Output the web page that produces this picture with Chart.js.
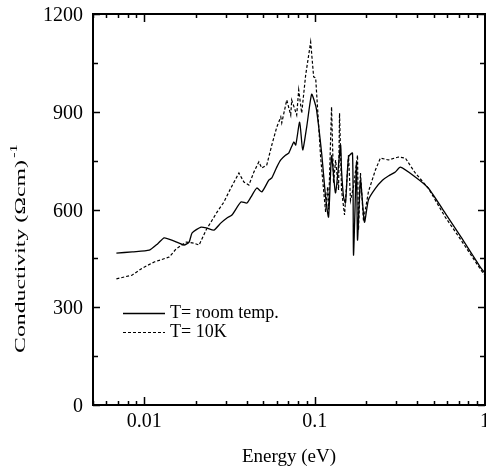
<!DOCTYPE html>
<html>
<head>
<meta charset="utf-8">
<script src="https://cdn.jsdelivr.net/npm/chart.js@4.4.1/dist/chart.umd.min.js"></script>
<style>
  html, body { margin: 0; padding: 0; background: #fff; }
  #wrap { width: 486px; height: 472px; }
</style>
</head>
<body>
<div id="wrap"><canvas id="conductivity-chart" width="486" height="472"></canvas></div>
<script>
// Energy (eV) and conductivity (Ohm cm)^-1
const roomEnergy = [0.00686, 0.0085, 0.0107, 0.0120, 0.01309, 0.0150, 0.0171, 0.01833, 0.01909, 0.02154,
  0.02336, 0.02567, 0.0282, 0.03058, 0.0327, 0.03692, 0.04002, 0.04224, 0.04579, 0.04898,
  0.05383, 0.05605, 0.05995, 0.06327, 0.06767, 0.07047, 0.0754, 0.07745, 0.0817, 0.08509,
  0.08979, 0.0960, 0.1, 0.1027, 0.1099, 0.1160, 0.1207, 0.1257, 0.1327, 0.1419,
  0.1438, 0.1478, 0.1518, 0.1581, 0.1668, 0.1691, 0.1761, 0.1785, 0.1858, 0.1961,
  0.2070, 0.2273, 0.2500, 0.2709, 0.2977, 0.3185, 0.3896, 0.4642, 0.5836, 0.7237,
  0.9476, 1.0];
const roomSigma = [466, 470, 475, 495, 513, 503, 491, 500, 528, 546,
  543, 537, 559, 574, 583, 623, 620, 638, 666, 654,
  690, 697, 730, 752, 767, 773, 807, 798, 868, 783,
  853, 954, 930, 905, 773, 638, 577, 765, 651, 798,
  721, 638, 620, 761, 773, 460, 745, 506, 690, 561,
  630, 665, 690, 703, 715, 730, 700, 666, 589, 515,
  420, 405];

const coldEnergy = [0.00686, 0.00851, 0.00973, 0.01144, 0.0140, 0.01538, 0.01761, 0.0195, 0.02098, 0.02305,
  0.02466, 0.02673, 0.02935, 0.03223, 0.03594, 0.03845, 0.04112, 0.04399, 0.04705, 0.04898,
  0.05239, 0.05605, 0.05995, 0.06327, 0.06412, 0.0686, 0.07238, 0.07336, 0.07847, 0.08063,
  0.08395, 0.0886, 0.09476, 0.09867, 0.1014, 0.1084, 0.1160, 0.1191, 0.1207, 0.1257,
  0.1291, 0.1327, 0.1382, 0.1400, 0.1438, 0.1498, 0.1581, 0.1624, 0.1691, 0.1785,
  0.1809, 0.1858, 0.1935, 0.2070, 0.2273, 0.2432, 0.2709, 0.3099, 0.3406, 0.3896,
  0.4642, 0.5836, 0.7237, 0.9476, 1.0];
const coldSigma = [387, 399, 420, 439, 454, 479, 500, 497, 491, 537,
  562, 592, 623, 666, 712, 684, 675, 715, 746, 727,
  737, 798, 853, 884, 866, 936, 890, 936, 890, 967,
  896, 1013, 1114, 1007, 1004, 761, 592, 669, 600, 915,
  681, 752, 660, 896, 660, 583, 767, 628, 669, 767,
  537, 712, 565, 655, 721, 758, 752, 761, 758, 712,
  666, 577, 506, 414, 398];

const seriesLabels = ['T= room temp.', 'T= 10K'];
const xLabelTicks = [0.01, 0.1, 1];
const yLabelTicks = [0, 300, 600, 900, 1200];

document.addEventListener('DOMContentLoaded', function() {
    const canvas = document.getElementById('conductivity-chart');
    const serif = "'Liberation Serif', 'DejaVu Serif', serif";

    function toPoints(xs, ys) {
        return xs.map((x, i) => ({ x: x, y: ys[i] }));
    }

    // Minor tick positions for the log axis (1..9 x 10^n)
    function logTickValues(min, max) {
        const vals = [];
        for (let p = -3; p <= 0; p++) {
            for (let m = 1; m <= 9; m++) {
                const v = m * Math.pow(10, p);
                if (v >= min * 0.999 && v <= max * 1.001) vals.push(v);
            }
        }
        return vals;
    }

    // Box, inward ticks, tick labels, titles and legend
    const framePlugin = {
        id: 'frame',
        afterDraw(chart) {
            const ctx = chart.ctx;
            const area = chart.chartArea;
            const xs = chart.scales.x;
            const ys = chart.scales.y;
            ctx.save();
            ctx.strokeStyle = '#000';
            ctx.fillStyle = '#000';

            // frame
            ctx.lineWidth = 2;
            ctx.strokeRect(area.left, area.top, area.right - area.left, area.bottom - area.top);

            // x ticks (bottom and top)
            ctx.lineWidth = 1.5;
            logTickValues(xs.min, xs.max).forEach(v => {
                const px = Math.round(xs.getPixelForValue(v)) + 0.5;
                const major = xLabelTicks.some(t => Math.abs(t - v) < 1e-9);
                const len = major ? 8 : 4;
                ctx.beginPath();
                ctx.moveTo(px, area.bottom);
                ctx.lineTo(px, area.bottom - len);
                ctx.moveTo(px, area.top);
                ctx.lineTo(px, area.top + len);
                ctx.stroke();
            });

            // y ticks (left and right) with labels
            ctx.font = '20px ' + serif;
            ctx.textAlign = 'right';
            ctx.textBaseline = 'alphabetic';
            ys.ticks.forEach(t => {
                const py = Math.round(ys.getPixelForValue(t.value)) + 0.5;
                const major = yLabelTicks.includes(t.value);
                const len = major ? 7 : 5;
                ctx.beginPath();
                ctx.moveTo(area.left, py);
                ctx.lineTo(area.left + len, py);
                ctx.moveTo(area.right, py);
                ctx.lineTo(area.right - len, py);
                ctx.stroke();
                if (major) ctx.fillText(String(t.value), area.left - 10, py + 6.5);
            });

            // x tick labels
            ctx.textAlign = 'center';
            xLabelTicks.forEach(v => {
                ctx.fillText(String(v), xs.getPixelForValue(v), 427);
            });

            // x title
            ctx.font = '19px ' + serif;
            ctx.fillText('Energy (eV)', (area.left + area.right) / 2, 462);

            // y title: the original glyphs are tall and narrow
            ctx.save();
            ctx.translate(25, 353);
            ctx.rotate(-Math.PI / 2);
            ctx.font = '22px ' + serif;
            ctx.textAlign = 'left';
            const main = 'Conductivity (\u03A9cm)';
            const sx = 193 / ctx.measureText(main).width;
            ctx.scale(sx, 0.7);
            ctx.fillText(main, 0, 0);
            ctx.font = '15px ' + serif;
            ctx.fillText('-1', 193 / sx + 2, -12);
            ctx.restore();

            // legend
            ctx.font = '18px ' + serif;
            ctx.textAlign = 'left';
            chart.data.datasets.forEach((ds, i) => {
                const ly = 313 + i * 19;
                ctx.lineWidth = ds.borderWidth;
                ctx.setLineDash(ds.borderDash || []);
                ctx.beginPath();
                ctx.moveTo(123, ly + 0.5);
                ctx.lineTo(165, ly + 0.5);
                ctx.stroke();
                ctx.setLineDash([]);
                ctx.fillText(ds.label, 170, ly + 5);
            });
            ctx.restore();
        }
    };

    const config = {
        type: 'line',
        data: {
            datasets: [
                {
                    label: seriesLabels[0],
                    data: toPoints(roomEnergy, roomSigma),
                    borderColor: '#000',
                    borderWidth: 1.3,
                    pointRadius: 0,
                    tension: 0.2,
                    fill: false
                },
                {
                    label: seriesLabels[1],
                    data: toPoints(coldEnergy, coldSigma),
                    borderColor: '#000',
                    borderWidth: 1.2,
                    borderDash: [3, 2],
                    pointRadius: 0,
                    tension: 0,
                    fill: false
                }
            ]
        },
        options: {
            responsive: false,
            animation: false,
            layout: { padding: { top: 14, right: 1, left: 0, bottom: 0 } },
            plugins: {
                legend: { display: false },
                tooltip: { enabled: false }
            },
            scales: {
                x: {
                    type: 'logarithmic',
                    min: 0.005,
                    max: 1,
                    grid: { display: false, drawTicks: false },
                    border: { display: false },
                    ticks: { display: false },
                    afterFit: function(scale) { scale.height = 67; }
                },
                y: {
                    min: 0,
                    max: 1200,
                    grid: { display: false, drawTicks: false },
                    border: { display: false },
                    ticks: { display: false, stepSize: 150 },
                    afterFit: function(scale) { scale.width = 93; }
                }
            }
        },
        plugins: [framePlugin]
    };

    new Chart(canvas, config);
});
</script>
</body>
</html>
